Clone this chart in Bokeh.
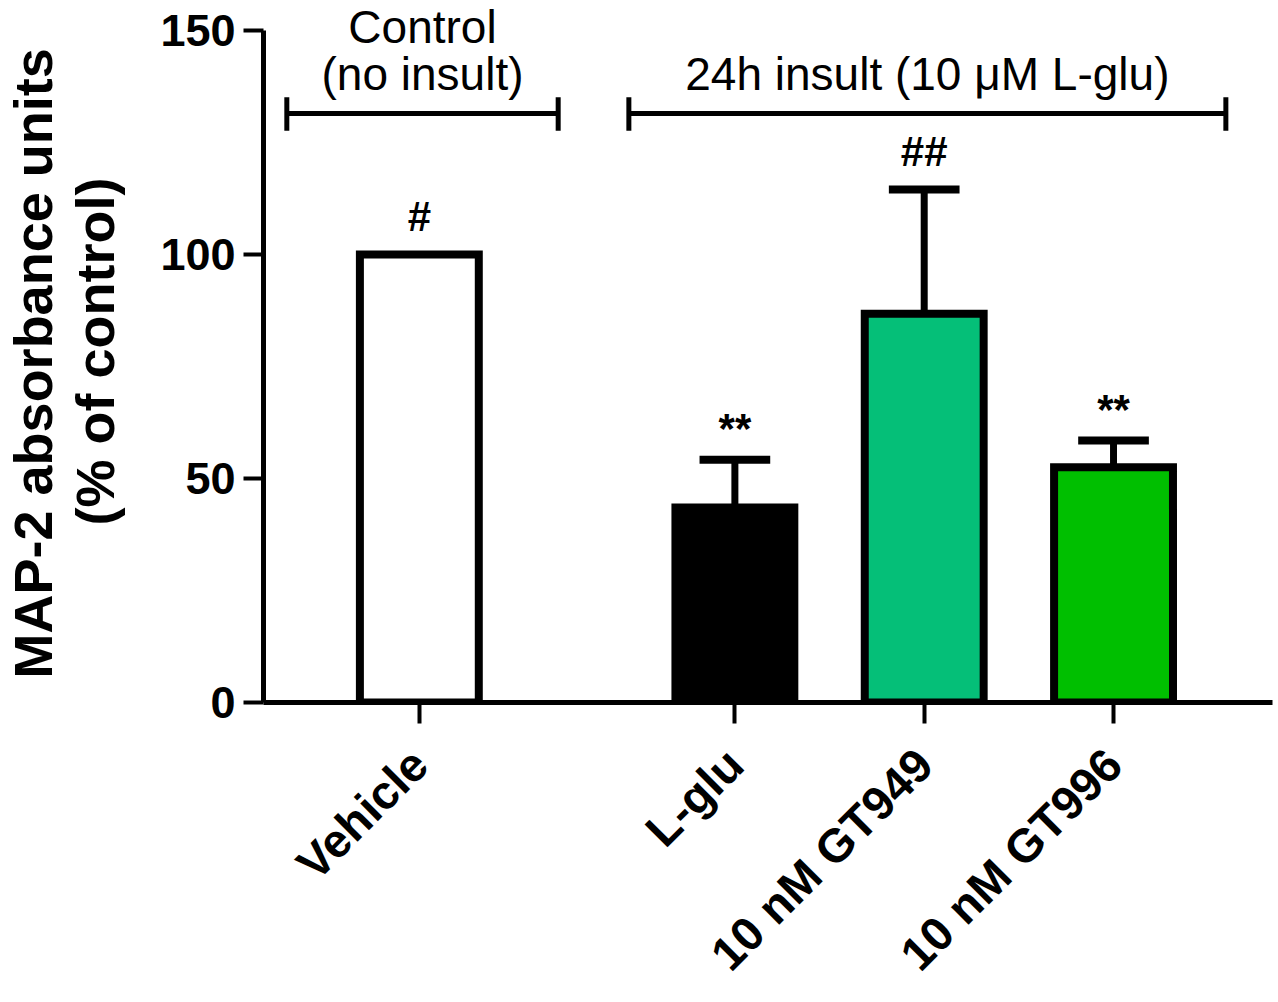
import numpy as np
from bokeh.plotting import figure
from bokeh.models import FixedTicker, Range1d, ColumnDataSource, Title
from bokeh.core.properties import value
from bokeh.embed import file_html
from bokeh.resources import INLINE

# ---- data ----
categories = ["Vehicle", "L-glu", "10 nM GT949", "10 nM GT996"]
group_of_bar = [0, 1, 1, 1]
means = [100.0, 43.5, 86.8, 52.5]
sems = [0.0, 10.7, 27.7, 6.0]
bar_colors = ["#FFFFFF", "#000000", "#05BF78", "#00BF00"]
signif = ["#", "**", "##", "**"]
y_ticks = [0, 50, 100, 150]
group_labels = ["Control\n(no insult)", "24h insult (10 \u03bcM L-glu)"]
y_title = ["MAP-2 absorbance units", "(% of control)"]

FONT = "Liberation Sans"

# positions in units of 1/3 bar spacing: bars 3 apart, extra gap of 2 between groups
idx = np.arange(len(categories))
xs = (3 * idx + 2 * np.array(group_of_bar)).astype(int)
means_a = np.array(means)
sems_a = np.array(sems)
tops = means_a + sems_a

W, H = 1275, 1002
LEFT, RIGHT, TOP, BOTTOM = 262, 3, 0, H - 702
px_per_x = 63.17
px_per_y = 4.48
x0 = -(418 - LEFT) / px_per_x
x1 = x0 + (W - LEFT - RIGHT) / px_per_x
y1 = (H - TOP - BOTTOM) / px_per_y


def py_to_y(py):
    return (H - BOTTOM - py) / px_per_y


p = figure(width=W, height=H,
           x_range=Range1d(x0, x1), y_range=Range1d(0, y1),
           output_backend="svg", toolbar_location=None,
           min_border_left=LEFT, min_border_right=RIGHT, min_border_top=TOP, min_border_bottom=BOTTOM)
p.outline_line_color = None
p.xgrid.visible = False
p.ygrid.visible = False
p.background_fill_color = "white"
p.border_fill_color = "white"

sig_off = np.where(np.array([s.startswith("#") for s in signif]), 8.5, 7.0)
src = ColumnDataSource(dict(x=xs, top=means_a, color=bar_colors, err_top=tops,
                            sig=signif, sig_y=tops + sig_off))

# error bars (upper only)
has_err = sems_a > 0
p.segment(x0=xs[has_err], y0=means_a[has_err], x1=xs[has_err], y1=tops[has_err],
          line_color="black", line_width=7)
cap_half = 0.56
p.segment(x0=xs[has_err] - cap_half, y0=tops[has_err], x1=xs[has_err] + cap_half, y1=tops[has_err],
          line_color="black", line_width=8)

# bars
p.vbar(x="x", top="top", bottom=0, width=1.884, fill_color="color", line_color="black",
       line_width=8, line_join="miter", source=src)

# significance marks
p.text(x="x", y="sig_y", text="sig", source=src, text_align="center", text_baseline="middle",
       text_font=value(FONT), text_font_style="bold", text_font_size="42px", text_color="black")

# group brackets
firsts = [xs[[g == k for g in group_of_bar]].min() for k in range(2)]
lasts = [xs[[g == k for g in group_of_bar]].max() for k in range(2)]
pad_l = [2.1, 1.68]
pad_r = [2.2, 1.78]
bx0 = np.array(firsts) - np.array(pad_l)
bx1 = np.array(lasts) + np.array(pad_r)
by = 131.5
p.segment(x0=bx0, y0=[by, by], x1=bx1, y1=[by, by], line_color="black", line_width=5)
p.segment(x0=np.concatenate([bx0, bx1]), y0=[by - 3.9] * 4,
          x1=np.concatenate([bx0, bx1]), y1=[by + 3.6] * 4, line_color="black", line_width=5)
line_step = 47 / px_per_y
last_bottom = py_to_y(99)
gx, gy, gt = [], [], []
for k, lab in enumerate(group_labels):
    lines = lab.split("\n")
    for j, ln in enumerate(lines):
        gx.append((bx0[k] + bx1[k]) / 2)
        gy.append(last_bottom + (len(lines) - 1 - j) * line_step)
        gt.append(ln)
p.text(x=gx, y=gy, text=gt, text_align="center", text_baseline="bottom",
       text_font=value(FONT), text_font_size="46px", text_color="black")

# y axis
ya = p.yaxis[0]
ya.bounds = (0, 150)
ya.ticker = FixedTicker(ticks=y_ticks)
ya.minor_tick_line_color = None
ya.major_tick_in = 0
ya.major_tick_out = 20
ya.major_tick_line_width = 4
ya.axis_line_width = 5
ya.axis_line_color = "black"
ya.major_tick_line_color = "black"
ya.major_label_text_font = FONT
ya.major_label_text_font_style = "bold"
ya.major_label_text_font_size = "45px"
ya.major_label_text_color = "black"
ya.major_label_standoff = 8
# inner title line as the axis label
ya.axis_label = y_title[1]
ya.axis_label_text_font = FONT
ya.axis_label_text_font_style = "bold"
ya.axis_label_text_font_size = "54px"
ya.axis_label_text_color = "black"
ya.axis_label_standoff = 32

# outer title line as a left title, centred on the same point as the reference
title_font_px = 54
approx_len = 11.67 * title_font_px * 0.99
start_from_bottom = (702 - 366) - approx_len / 2
p.add_layout(Title(text=y_title[0], align="left", offset=start_from_bottom, standoff=0,
                   text_font=FONT, text_font_style="bold", text_font_size=f"{title_font_px}px",
                   text_color="black"), "left")

# x axis
xa = p.xaxis[0]
xa.ticker = FixedTicker(ticks=[int(v) for v in xs])
xa.major_label_overrides = {int(v): c for v, c in zip(xs, categories)}
xa.minor_tick_line_color = None
xa.major_tick_in = 0
xa.major_tick_out = 21
xa.major_tick_line_width = 4
xa.axis_line_width = 5
xa.axis_line_color = "black"
xa.major_tick_line_color = "black"
xa.major_label_orientation = np.pi / 4
xa.major_label_text_font = FONT
xa.major_label_text_font_style = "bold"
xa.major_label_text_font_size = "47px"
xa.major_label_text_color = "black"
xa.major_label_standoff = 33

open("out.html", "w").write(file_html(p, INLINE))
